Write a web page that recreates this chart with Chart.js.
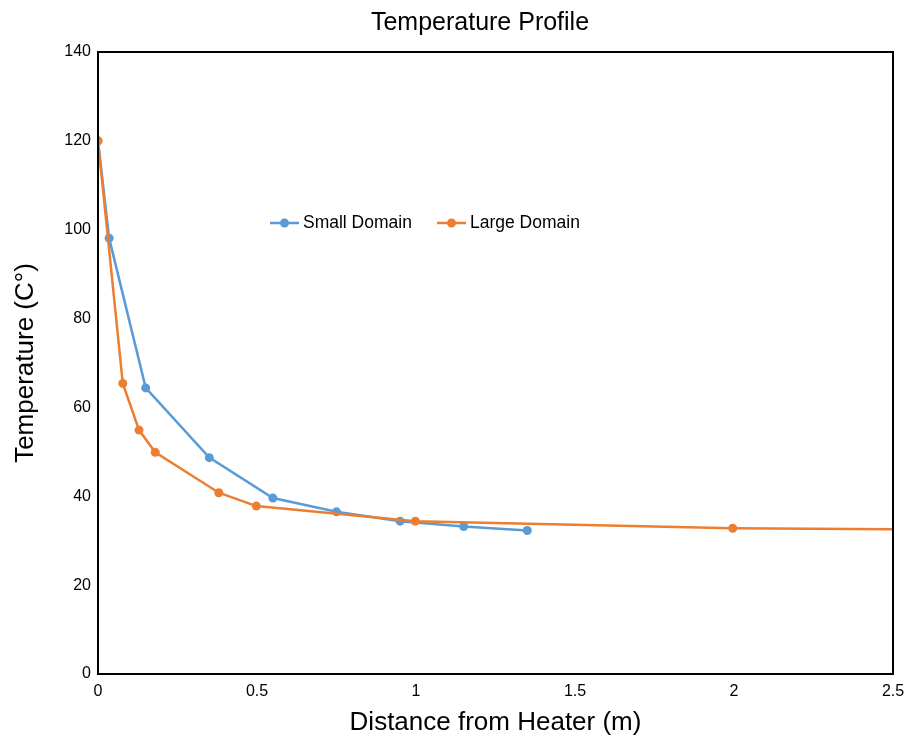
<!DOCTYPE html>
<html>
<head>
<meta charset="utf-8">
<script src="https://cdn.jsdelivr.net/npm/chart.js@4.4.0/dist/chart.umd.min.js"></script>
<style>
  html, body { margin: 0; padding: 0; background: #fff; }
  #wrap { width: 909px; height: 738px; }
</style>
</head>
<body>
<div id="wrap"><canvas id="tempChart" width="909" height="738"></canvas></div>
<script>
// data
const smallX = [0, 0.035, 0.15, 0.35, 0.55, 0.75, 0.95, 1.15, 1.35];
const smallY = [120, 98.1, 64.4, 48.7, 39.6, 36.5, 34.4, 33.2, 32.3];
const largeX = [0, 0.078, 0.129, 0.18, 0.38, 0.498, 0.998, 1.996, 2.5];
const largeY = [120, 65.4, 54.9, 49.9, 40.8, 37.8, 34.4, 32.8, 32.6];
const xTicks = [0, 0.5, 1, 1.5, 2, 2.5];
const yTicks = [0, 20, 40, 60, 80, 100, 120, 140];

const BLUE = "#5B9BD5";
const ORANGE = "#ED7D31";
const FONT = "'Liberation Sans', Arial, sans-serif";

function toPoints(xs, ys) {
  return xs.map((x, i) => ({ x, y: ys[i] }));
}

// box around plot, title and in-plot legend
const decorPlugin = {
  id: "decor",
  afterDraw(chart) {
    const { ctx, chartArea: a } = chart;
    ctx.save();
    ctx.strokeStyle = "#000";
    ctx.lineWidth = 2;
    ctx.strokeRect(a.left, a.top, a.right - a.left, a.bottom - a.top);

    ctx.fillStyle = "#000";
    ctx.font = "25px " + FONT;
    ctx.textAlign = "center";
    ctx.textBaseline = "middle";
    ctx.fillText("Temperature Profile", 480, 23);

    // legend
    const items = [
      { label: "Small Domain", color: BLUE, x: 270 },
      { label: "Large Domain", color: ORANGE, x: 437 },
    ];
    const ly = 223;
    ctx.font = "17.5px " + FONT;
    ctx.textAlign = "left";
    items.forEach((it) => {
      ctx.strokeStyle = it.color;
      ctx.lineWidth = 2.5;
      ctx.beginPath();
      ctx.moveTo(it.x, ly);
      ctx.lineTo(it.x + 29, ly);
      ctx.stroke();
      ctx.fillStyle = it.color;
      ctx.beginPath();
      ctx.arc(it.x + 14.5, ly, 4.5, 0, Math.PI * 2);
      ctx.fill();
      ctx.fillStyle = "#000";
      ctx.fillText(it.label, it.x + 33, ly);
    });
    ctx.restore();
  },
};

new Chart(document.getElementById("tempChart"), {
  type: "line",
  data: {
    datasets: [
      {
        label: "Small Domain",
        data: toPoints(smallX, smallY),
        borderColor: BLUE,
        backgroundColor: BLUE,
        borderWidth: 2.5,
        pointRadius: 4.5,
        pointBorderWidth: 0,
        tension: 0,
        order: 2,
      },
      {
        label: "Large Domain",
        data: toPoints(largeX, largeY),
        borderColor: ORANGE,
        backgroundColor: ORANGE,
        borderWidth: 2.5,
        pointRadius: largeX.map((x) => (x >= 2.5 ? 0 : 4.5)),
        pointBorderWidth: 0,
        tension: 0,
        order: 1,
      },
    ],
  },
  options: {
    responsive: false,
    animation: false,
    layout: { padding: { top: 52, right: 16, left: 0, bottom: 0 } },
    plugins: {
      legend: { display: false },
      title: { display: false },
      tooltip: { enabled: false },
    },
    scales: {
      x: {
        type: "linear",
        min: 0,
        max: 2.5,
        afterBuildTicks: (s) => { s.ticks = xTicks.map((v) => ({ value: v })); },
        afterFit: (s) => { s.height = 64; s.paddingRight = 0; s.paddingLeft = 0; },
        grid: { display: false, drawTicks: false },
        border: { display: false },
        ticks: {
          color: "#000",
          padding: 8,
          font: { family: FONT, size: 16 },
          maxRotation: 0,
          callback: (v) => String(v),
        },
        title: {
          display: true,
          text: "Distance from Heater (m)",
          color: "#000",
          font: { family: FONT, size: 26 },
          padding: { top: 4, bottom: 0 },
        },
      },
      y: {
        min: 0,
        max: 140,
        afterBuildTicks: (s) => { s.ticks = yTicks.map((v) => ({ value: v })); },
        afterFit: (s) => { s.width = 98; },
        grid: { display: false, drawTicks: false },
        border: { display: false },
        ticks: {
          color: "#000",
          padding: 7,
          font: { family: FONT, size: 16 },
        },
        title: {
          display: true,
          text: "Temperature (C°)",
          color: "#000",
          font: { family: FONT, size: 26 },
          padding: { top: 10, bottom: 4 },
        },
      },
    },
  },
  plugins: [decorPlugin],
});
</script>
</body>
</html>
